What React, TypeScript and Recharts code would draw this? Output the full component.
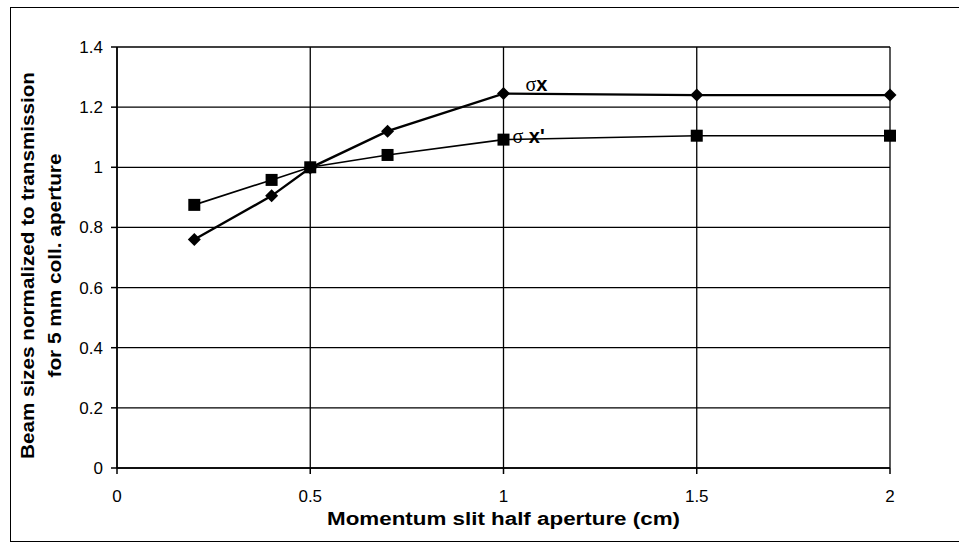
import React from 'react';
import { LineChart, Line, XAxis, YAxis, CartesianGrid, LabelList } from 'recharts';

const slitHalfAperture = [0.2, 0.4, 0.5, 0.7, 1, 1.5, 2];
const sigmaX = [0.76, 0.905, 0.998, 1.12, 1.245, 1.24, 1.24];
const sigmaXPrime = [0.875, 0.958, 1.0, 1.041, 1.092, 1.105, 1.105];

const xTicks = [0, 0.5, 1, 1.5, 2];
const yTicks = [0, 0.2, 0.4, 0.6, 0.8, 1, 1.2, 1.4];

const xTitle = 'Momentum slit half aperture  (cm)';
const yTitleLines = ['Beam sizes normalized to transmission', 'for 5 mm coll. aperture'];

const data = slitHalfAperture.map((x, i) => ({ x, sx: sigmaX[i], sxp: sigmaXPrime[i] }));

const FONT = '"Liberation Sans", Arial, sans-serif';

const Diamond = ({ cx, cy }: any) => {
  if (cx == null || cy == null) return null;
  const s = 6.5;
  return <path d={`M${cx},${cy - s}L${cx + s},${cy}L${cx},${cy + s}L${cx - s},${cy}Z`} fill="#000" />;
};

const Square = ({ cx, cy }: any) => {
  if (cx == null || cy == null) return null;
  return <rect x={cx - 6} y={cy - 6} width={12} height={12} fill="#000" />;
};

const XTitle = ({ viewBox }: any) => {
  const cx = viewBox.x + viewBox.width / 2;
  return (
    <text x={cx} y={viewBox.y + 57} textAnchor="middle" fontFamily={FONT} fontWeight="bold" fontSize={18}
      textLength={353} lengthAdjust="spacingAndGlyphs" fill="#000">
      {xTitle}
    </text>
  );
};

const YTitle = ({ viewBox }: any) => {
  const cy = viewBox.y + viewBox.height / 2 + 8;
  const xs = [28, 55];
  const lens = [387, 224];
  return (
    <g>
      {yTitleLines.map((t, i) => (
        <text key={i} x={xs[i]} y={cy} transform={`rotate(-90 ${xs[i]} ${cy})`} textAnchor="middle"
          dominantBaseline="central" fontFamily={FONT} fontWeight="bold" fontSize={18}
          textLength={lens[i]} lengthAdjust="spacingAndGlyphs" fill="#000">
          {t}
        </text>
      ))}
    </g>
  );
};

const seriesLabel = (text: string, dx: number, dy: number, atIndex: number) => (props: any) => {
  if (props.index !== atIndex) return null;
  const x = props.x ?? props.viewBox?.x;
  const y = props.y ?? props.viewBox?.y;
  const parts = text.split('σ');
  return (
    <text x={x + dx} y={y + dy} dominantBaseline="central" fontSize={20} fill="#000">
      <tspan fontFamily='"Liberation Serif", serif'>σ</tspan>
      <tspan fontFamily={FONT} fontWeight="bold">{parts[1]}</tspan>
    </text>
  );
};

export default function App() {
  return (
    <div style={{ position: 'fixed', left: 0, top: 0, width: 959, height: 547, background: '#fff', overflow: 'hidden' }}>
      <div style={{ position: 'absolute', left: 10, top: 7, width: 970, height: 533, border: '1.5px solid #000' }} />
      <div style={{ position: 'absolute', left: 0, top: 0 }}>
        <LineChart width={959} height={547} data={data} margin={{ top: 47, right: 69, left: 0, bottom: 0 }}>
          <CartesianGrid stroke="#000" strokeWidth={1.3} horizontalValues={yTicks} verticalValues={xTicks} />
          <XAxis type="number" dataKey="x" domain={[0, 2]} ticks={xTicks} height={79}
            stroke="#000" strokeWidth={1.5} tickSize={6} tickMargin={16}
            tick={{ fill: '#000', fontSize: 17, fontFamily: FONT }} label={<XTitle />} />
          <YAxis type="number" domain={[0, 1.4]} ticks={yTicks} width={117}
            stroke="#000" strokeWidth={1.5} tickSize={6} tickMargin={8}
            tick={{ fill: '#000', fontSize: 17, fontFamily: FONT }} label={<YTitle />} />
          <Line dataKey="sxp" stroke="#000" strokeWidth={1.6} isAnimationActive={false}
            dot={(p: any) => <Square key={`sq-${p.index}`} {...p} />} activeDot={false}>
            <LabelList dataKey="sxp" content={seriesLabel('σ x\'', 9, -4, 4)} />
          </Line>
          <Line dataKey="sx" stroke="#000" strokeWidth={2.4} isAnimationActive={false}
            dot={(p: any) => <Diamond key={`dm-${p.index}`} {...p} />} activeDot={false}>
            <LabelList dataKey="sx" content={seriesLabel('σx', 22, -10, 4)} />
          </Line>
        </LineChart>
      </div>
    </div>
  );
}
